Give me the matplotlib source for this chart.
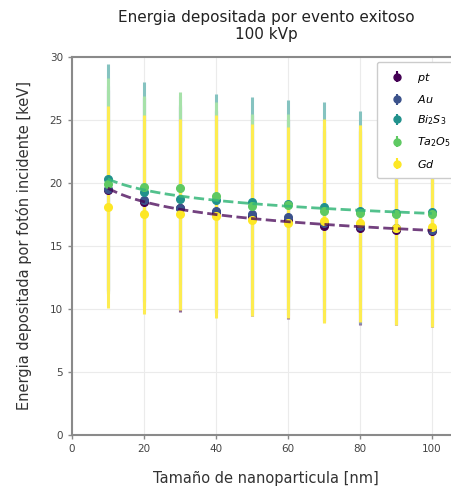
import numpy as np
import matplotlib
matplotlib.use("Agg")
import matplotlib.pyplot as plt
from matplotlib.colors import to_rgb

sizes = [10, 20, 30, 40, 50, 60, 70, 80, 90, 100]
labels = ["$pt$", "$Au$", "$Bi_2S_3$", "$Ta_2O_5$", "$Gd$"]
colors = ["#440154", "#3b528b", "#21918c", "#5ec962", "#fde725"]

e_pt = [19.4, 18.5, 18.0, 17.67, 17.4, 17.1, 16.55, 16.4, 16.3, 16.15]
e_au = [19.5, 18.65, 18.0, 17.8, 17.55, 17.3, 16.8, 16.55, 16.4, 16.3]
e_bi2s3 = [20.3, 19.3, 18.7, 18.65, 18.45, 18.3, 18.1, 17.75, 17.6, 17.7]
e_ta2o5 = [19.9, 19.7, 19.6, 19.0, 18.2, 18.25, 17.8, 17.6, 17.5, 17.5]
e_gd = [18.1, 17.5, 17.5, 17.35, 17.05, 16.85, 17.0, 16.8, 16.45, 16.5]

err_pt = [8.0, 8.3, 8.2, 8.0, 7.95, 7.9, 7.6, 7.7, 7.6, 7.6]
err_au = [8.2, 8.1, 8.0, 8.0, 7.9, 7.8, 7.7, 7.7, 7.6, 7.6]
err_bi2s3 = [9.1, 8.7, 8.2, 8.4, 8.35, 8.3, 8.3, 7.95, 7.9, 7.9]
err_ta2o5 = [8.4, 7.2, 7.65, 7.45, 7.3, 7.2, 7.2, 7.0, 7.0, 7.0]
err_gd = [8.0, 7.9, 7.6, 8.05, 7.6, 7.6, 8.1, 7.8, 7.75, 7.95]

series = [e_pt, e_au, e_bi2s3, e_ta2o5, e_gd]
errors = [err_pt, err_au, err_bi2s3, err_ta2o5, err_gd]
bar_alpha = [0.6, 0.6, 0.55, 0.55, 0.8]


def soften(c, a=0.55):
    r, g, b = to_rgb(c)
    return (1 - a + a * r, 1 - a + a * g, 1 - a + a * b)


fig = plt.figure(figsize=(4.52, 4.90), dpi=100)
ax = fig.add_axes([0.159, 0.112, 0.86, 0.772])

x = np.array(sizes, dtype=float)
handles = []
for i, (vals, errs, col, a) in enumerate(zip(series, errors, colors, bar_alpha)):
    ax.errorbar(x, vals, yerr=errs, fmt="none", ecolor=soften(col, a),
                elinewidth=2.2, zorder=2 + i * 0.01)
for i, (vals, lab, col) in enumerate(zip(series, labels, colors)):
    ax.plot(x, vals, "o", ms=5.5, color=col, zorder=5 + i * 0.01)
    h = ax.errorbar([], [], yerr=[], fmt="o", ms=5, color=col, ecolor=col,
                    elinewidth=1.5, label=lab)
    handles.append(h)


# power-law trend lines for pt and for the Bi2S3 / Ta2O5 pair
def power_fit(xv, yv):
    b, a = np.polyfit(np.log(xv), np.log(yv), 1)
    xs = np.linspace(xv.min(), xv.max(), 200)
    return xs, np.exp(a) * xs ** b


xs, ys = power_fit(x, np.array(e_pt))
ax.plot(xs, ys, "--", color="#440154", lw=2, alpha=0.75, zorder=6)
upper = (np.array(e_bi2s3) + np.array(e_ta2o5)) / 2
xs, ys = power_fit(x, upper)
ax.plot(xs, ys, "--", color="#35b779", lw=2, alpha=0.85, zorder=6)

ax.set_xlim(0, 108)
ax.set_ylim(0, 30)
ax.set_xticks([0, 20, 40, 60, 80, 100])
ax.set_yticks([0, 5, 10, 15, 20, 25, 30])
ax.grid(True, color="#ebebeb", lw=0.8)
ax.set_axisbelow(True)
for s in ax.spines.values():
    s.set_color("#8a8a8a")
    s.set_linewidth(1.5)
ax.tick_params(colors="#444444", labelsize=7.5, length=3, width=1, color="#8a8a8a")

ax.set_title("Energia depositada por evento exitoso\n100 kVp", fontsize=11,
             color="#222222", pad=13, linespacing=1.15)
ax.set_xlabel("Tamaño de nanoparticula [nm]", fontsize=10.5, color="#333333", labelpad=12)
ax.set_ylabel("Energia depositada por fotón incidente [keV]", fontsize=10.5,
              color="#333333", labelpad=13)

leg = ax.legend(handles=handles, loc="upper left", bbox_to_anchor=(0.785, 0.987),
                borderaxespad=0, fontsize=8, frameon=True, fancybox=True,
                edgecolor="#cccccc", framealpha=1, handlelength=2.0,
                labelspacing=0.75, borderpad=0.8, handletextpad=0.8)

fig.savefig("out.png", dpi=100)
